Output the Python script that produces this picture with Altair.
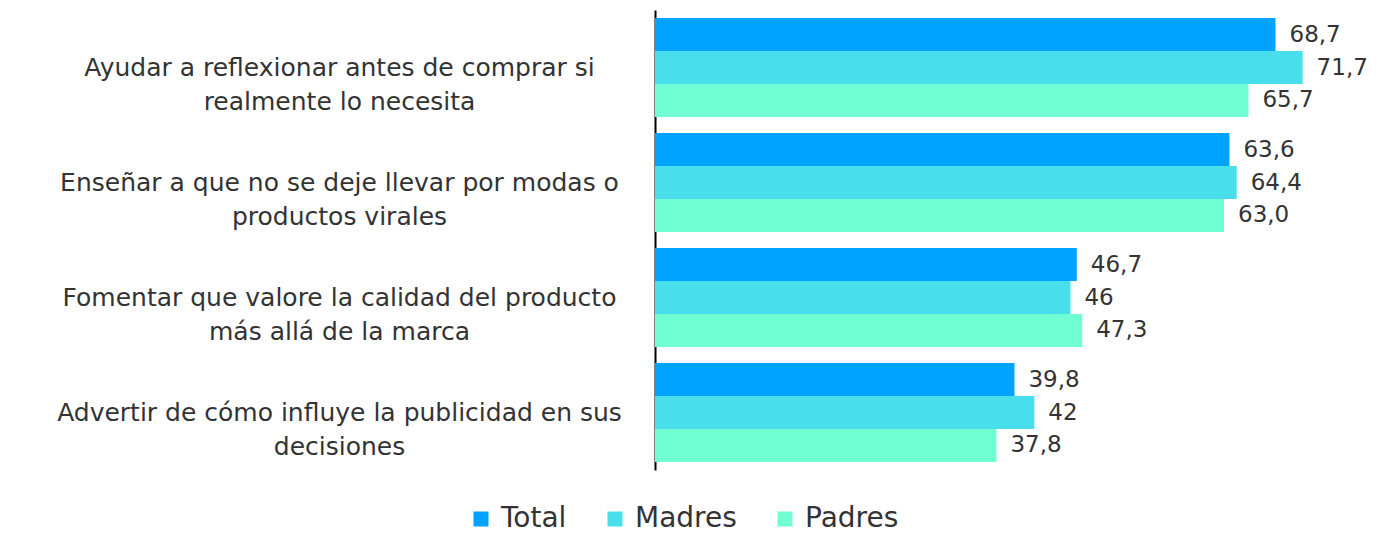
import altair as alt
import pandas as pd

categories = [
    "Ayudar a reflexionar antes de comprar si|realmente lo necesita",
    "Enseñar a que no se deje llevar por modas o|productos virales",
    "Fomentar que valore la calidad del producto|más allá de la marca",
    "Advertir de cómo influye la publicidad en sus|decisiones",
]
series = ["Total", "Madres", "Padres"]
total = [68.7, 63.6, 46.7, 39.8]
madres = [71.7, 64.4, 46.0, 42.0]
padres = [65.7, 63.0, 47.3, 37.8]
total_labels = ["68,7", "63,6", "46,7", "39,8"]
madres_labels = ["71,7", "64,4", "46", "42"]
padres_labels = ["65,7", "63,0", "47,3", "37,8"]
colors = ["#00A3FF", "#48DEEB", "#6FFFD2"]

rows = []
for s, vals, labs in zip(series, [total, madres, padres], [total_labels, madres_labels, padres_labels]):
    for c, v, l in zip(categories, vals, labs):
        rows.append({"cat": c, "series": s, "value": v, "label": l})
df = pd.DataFrame(rows)

FONT = "DejaVu Sans"

base = alt.Chart(df).encode(
    y=alt.Y(
        "cat:N",
        sort=categories,
        scale=alt.Scale(paddingInner=0.14, paddingOuter=0.07),
        axis=alt.Axis(
            title=None,
            labelExpr="split(datum.label, '|')",
            labelAlign="center",
            labelBaseline="middle",
            labelPadding=316,
            ticks=False,
            domainColor="#000000",
            domainWidth=2,
            labelFontSize=25,
            labelLineHeight=34,
            labelColor="#333333",
            labelLimit=1000,
            labelFont=FONT,
        ),
    ),
    yOffset=alt.YOffset("series:N", sort=series, scale=alt.Scale(paddingInner=0, paddingOuter=0)),
    x=alt.X("value:Q", scale=alt.Scale(domain=[0, 77.5]), axis=None),
)

bars = base.mark_bar().encode(
    color=alt.Color(
        "series:N",
        sort=series,
        scale=alt.Scale(domain=series, range=colors),
        legend=alt.Legend(
            title=None,
            orient="none",
            legendX=-188,
            legendY=495,
            direction="horizontal",
            symbolType="square",
            symbolSize=225,
            symbolStrokeWidth=0,
            labelFontSize=28,
            labelFont=FONT,
            labelColor="#333333",
            columnPadding=34,
            labelOffset=6,
        ),
    )
)

texts = base.mark_text(align="left", baseline="middle", dx=14, fontSize=23, font=FONT, color="#333333").encode(
    text="label:N"
)

chart = (
    alt.layer(bars, texts)
    .properties(
        width=700,
        height=460,
        autosize=alt.AutoSizeParams(type="none"),
        padding={"left": 647, "top": 2, "right": 16, "bottom": 65},
    )
    .configure_view(stroke=None)
)

chart.save("out.html", embed_options={"renderer": "svg", "actions": False})
